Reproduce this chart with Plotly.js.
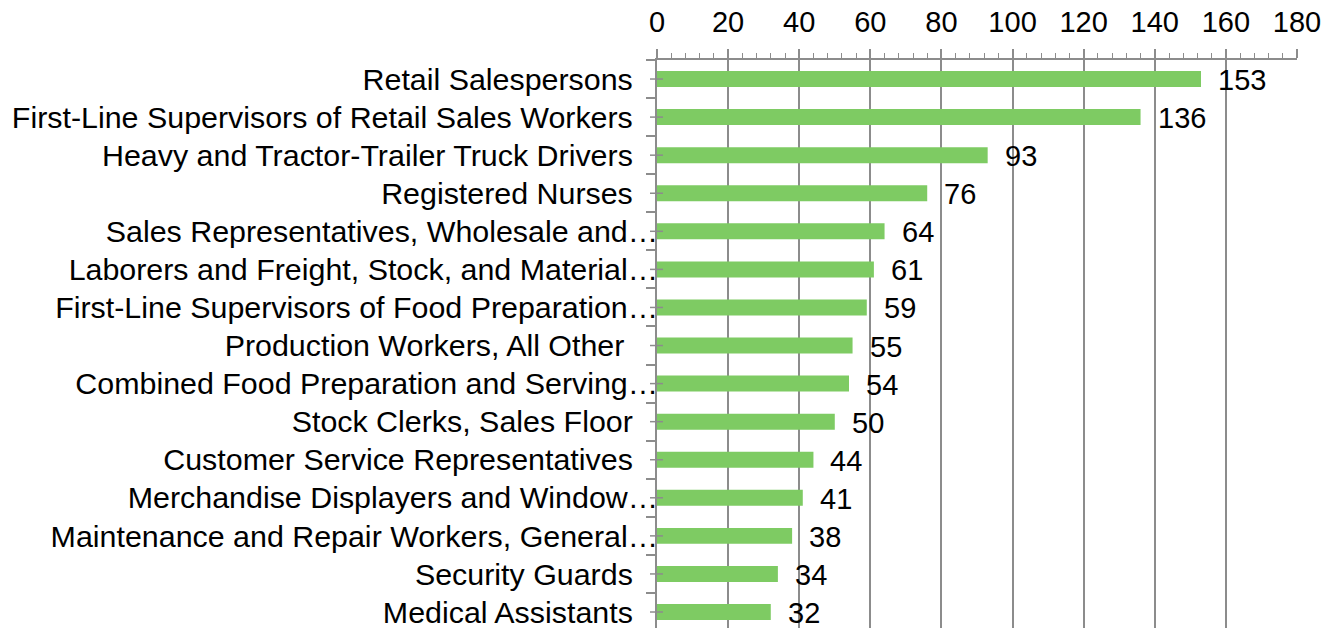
<!DOCTYPE html>
<html>
<head>
<meta charset="utf-8">
<script src="https://cdn.plot.ly/plotly-3.0.1.min.js"></script>
<style>
html,body{margin:0;padding:0;background:#fff;}
#chart{width:1332px;height:628px;}
</style>
</head>
<body>
<div id="chart"></div>
<script>
var categories = [
  "Retail Salespersons",
  "First-Line Supervisors of Retail Sales Workers",
  "Heavy and Tractor-Trailer Truck Drivers",
  "Registered Nurses",
  "Sales Representatives, Wholesale and\u2026",
  "Laborers and Freight, Stock, and Material\u2026",
  "First-Line Supervisors of Food Preparation\u2026",
  "Production Workers, All Other ",
  "Combined Food Preparation and Serving\u2026",
  "Stock Clerks, Sales Floor",
  "Customer Service Representatives",
  "Merchandise Displayers and Window\u2026",
  "Maintenance and Repair Workers, General\u2026",
  "Security Guards",
  "Medical Assistants"
];
var values = [153, 136, 93, 76, 64, 61, 59, 55, 54, 50, 44, 41, 38, 34, 32];
var xTicks = [0, 20, 40, 60, 80, 100, 120, 140, 160, 180];

var GRAY = "#8c8c8c";
var GREEN = "#7ecb63";
var FONT = "Liberation Sans, Arial, sans-serif";

// display labels: full labels get trailing padding like the original
var displayLabels = categories.map(function (c) {
  if (c.indexOf("\u2026") >= 0) return c;
  return c.replace(/\s+$/, "") + (/\s$/.test(c) ? "\u00a0\u00a0\u00a0\u00a0" : "\u00a0\u00a0\u00a0");
});

var trace = {
  type: "bar",
  orientation: "h",
  x: values,
  y: displayLabels,
  marker: {color: GREEN, line: {width: 0}},
  hoverinfo: "x+y"
};

var annotations = values.map(function (v, i) {
  return {
    x: v, y: displayLabels[i], xref: "x", yref: "y",
    text: String(v), showarrow: false,
    xanchor: "left", yanchor: "middle", xshift: 15, yshift: -1,
    font: {family: FONT, size: 29, color: "#000"}
  };
});

var shapes = displayLabels.map(function (c) {
  return {
    type: "line", xref: "paper", yref: "y",
    x0: -7 / 640, x1: 6 / 640, y0: c, y1: c,
    line: {color: GRAY, width: 1.5}, layer: "above"
  };
});

var layout = {
  width: 1332, height: 628,
  margin: {l: 657, r: 35, t: 60, b: 0, pad: 0},
  paper_bgcolor: "#fff", plot_bgcolor: "#fff",
  showlegend: false,
  bargap: 0.58,
  font: {family: FONT, color: "#000"},
  xaxis: {
    side: "top",
    range: [0, 180],
    tickvals: xTicks,
    ticktext: xTicks.map(String),
    tickfont: {family: FONT, size: 29, color: "#000"},
    ticks: "outside", ticklen: 9, tickwidth: 1.5, tickcolor: GRAY,
    minor: {dtick: 4, ticks: "outside", ticklen: 5, tickwidth: 1, tickcolor: GRAY, showgrid: false},
    showgrid: true, gridcolor: GRAY, gridwidth: 1.5,
    showline: true, linecolor: GRAY, linewidth: 1.5,
    zeroline: false,
    ticklabelstandoff: 6,
    fixedrange: true
  },
  yaxis: {
    type: "category",
    range: [14.42, -0.5],
    tickfont: {family: FONT, size: 30.4, color: "#000"},
    ticks: "outside", tickson: "boundaries", ticklen: 9, tickwidth: 1.5, tickcolor: GRAY,
    showgrid: false,
    showline: true, linecolor: GRAY, linewidth: 1.5,
    zeroline: false,
    ticklabelstandoff: -9,
    fixedrange: true
  },
  annotations: annotations,
  shapes: shapes
};

Plotly.newPlot("chart", [trace], layout, {displayModeBar: false, responsive: false});
</script>
</body>
</html>
